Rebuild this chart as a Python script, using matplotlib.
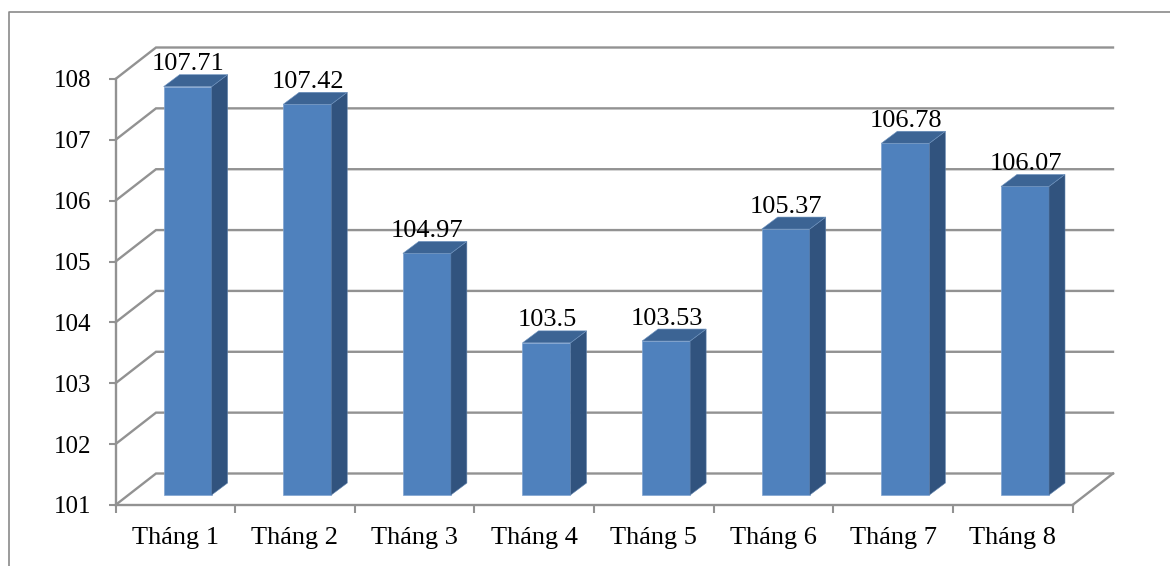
import matplotlib
matplotlib.use('Agg')
import matplotlib.pyplot as plt
from matplotlib.lines import Line2D
from matplotlib.patches import Polygon

plt.rcParams['font.family'] = ['Liberation Serif', 'DejaVu Serif']

months = ['Tháng 1', 'Tháng 2', 'Tháng 3', 'Tháng 4', 'Tháng 5', 'Tháng 6', 'Tháng 7', 'Tháng 8']
values = [107.71, 107.42, 104.97, 103.5, 103.53, 105.37, 106.78, 106.07]
value_labels = ['107.71', '107.42', '104.97', '103.5', '103.53', '105.37', '106.78', '106.07']
y_ticks = [101, 102, 103, 104, 105, 106, 107, 108]

W, H = 1170, 566
LEFT, RIGHT, TOP, BOTTOM = 115.5, 1072.5, 79, 505
GREY = '#929292'
FRONT = '#4f81bd'
SIDE = '#31537e'
CAP = '#3c6494'

fig = plt.figure(figsize=(W / 100, H / 100), dpi=100, facecolor='white')
ax = fig.add_axes([LEFT / W, 1 - BOTTOM / H, (RIGHT - LEFT) / W, (BOTTOM - TOP) / H])
ax.set_xlim(0, len(months))
ax.set_ylim(y_ticks[0], y_ticks[-1])

# pixel sizes expressed in data units
ux = (RIGHT - LEFT) / len(months)
uy = (BOTTOM - TOP) / (y_ticks[-1] - y_ticks[0])
wall_dx, wall_dy = 40.5 / ux, 31.5 / uy
bar_dx, bar_dy = 12.3 / ux, 10 / uy
side_dx, side_dy = 16 / ux, 12 / uy
bar_w = 48 / ux

# outer chart border, open on the right and bottom
fig.add_artist(Line2D([8.5 / W, 8.5 / W, 1], [0, 1 - 11.5 / H, 1 - 11.5 / H],
                      color='#8a8a8a', lw=1.2, transform=fig.transFigure))

# back wall lines with their diagonal on the side wall
x_end = len(months)
for t in y_ticks:
    ax.plot([0, wall_dx, x_end + wall_dx], [t, t + wall_dy, t + wall_dy],
            color=GREY, lw=1.7, clip_on=False, zorder=1, solid_joinstyle='miter')
ax.plot([x_end, x_end + wall_dx], [y_ticks[0], y_ticks[0] + wall_dy],
        color=GREY, lw=1.7, clip_on=False, zorder=1)

# bars: front face, then the side and top faces
base = y_ticks[0] + bar_dy
for i, v in enumerate(values):
    x0 = i + 0.5 - bar_w / 2 + bar_dx
    x1 = x0 + bar_w
    top = v + bar_dy
    ax.bar(x0, v - y_ticks[0], width=bar_w, bottom=base, align='edge',
           color=FRONT, edgecolor='#7ea3d1', lw=0.5, zorder=3, clip_on=False)
    ax.add_patch(Polygon([(x1, base), (x1 + side_dx, base + side_dy),
                          (x1 + side_dx, top + side_dy), (x1, top)],
                         fc=SIDE, ec='#5f82ad', lw=0.4, zorder=3, clip_on=False))
    ax.add_patch(Polygon([(x0, top), (x0 + side_dx, top + side_dy),
                          (x1 + side_dx, top + side_dy), (x1, top)],
                         fc=CAP, ec='#6f94c0', lw=0.4, zorder=3, clip_on=False))
    ax.text((x0 + x1) / 2 + 0.5 / ux, top + side_dy + 4.5 / uy, value_labels[i], ha='center', va='baseline',
            fontsize=19, color='black', zorder=4, clip_on=False)

# front axes
for name in ['top', 'right']:
    ax.spines[name].set_visible(False)
for name in ['left', 'bottom']:
    ax.spines[name].set_color(GREY)
    ax.spines[name].set_linewidth(1.7)
ax.patch.set_alpha(0)

ax.set_yticks(y_ticks)
ax.set_yticklabels([str(t) for t in y_ticks], fontsize=18)
ax.tick_params(axis='y', length=5, width=1.5, color=GREY, pad=12.3)
ax.set_xticks(range(len(months) + 1))
ax.set_xticklabels([])
ax.tick_params(axis='x', which='major', length=6, width=1.5, color=GREY)
ax.set_xticks([i + 0.5 for i in range(len(months))], minor=True)
ax.set_xticklabels(months, minor=True, fontsize=19)
ax.tick_params(axis='x', which='minor', length=0, pad=16)

fig.savefig('out.png', dpi=100, facecolor='white')
